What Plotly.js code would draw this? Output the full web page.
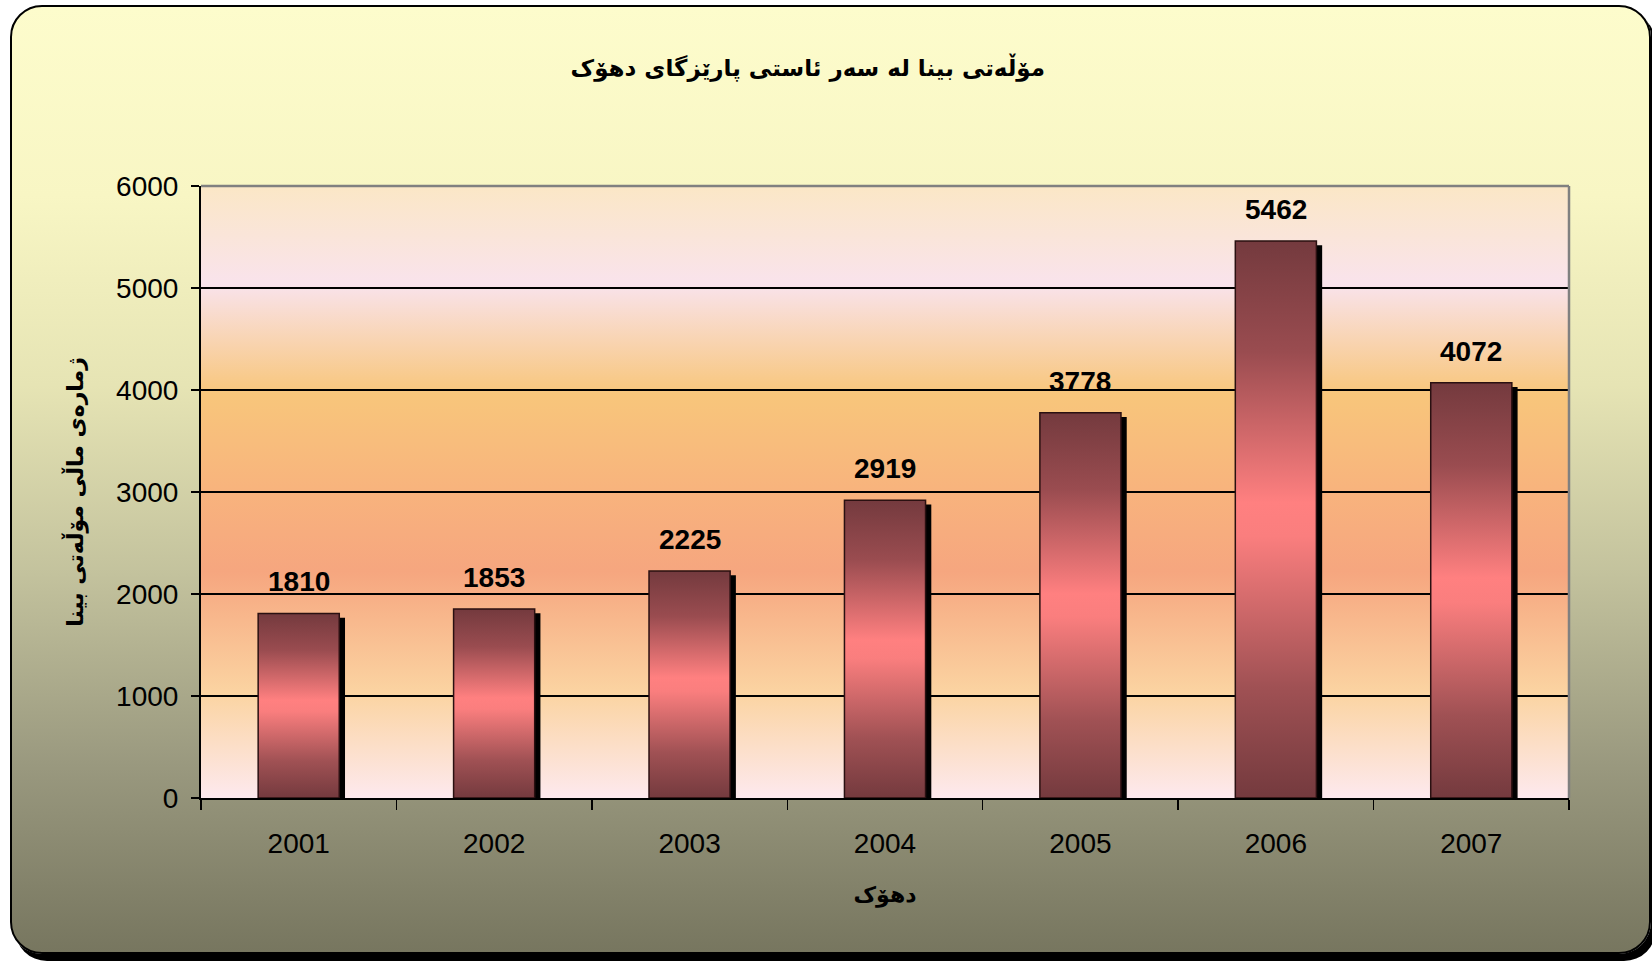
<!DOCTYPE html>
<html>
<head>
<meta charset="utf-8">
<script src="https://cdn.plot.ly/plotly-3.0.1.min.js"></script>
<style>
  html, body { margin: 0; padding: 0; width: 1652px; height: 962px; overflow: hidden; background: #ffffff; }
  #frame {
    position: absolute; left: 10px; top: 5px; width: 1637px; height: 945px;
    border: 2px solid #000; border-radius: 32px;
    background: linear-gradient(to bottom, #FDFCCC 0%, #F8F6C4 20%, #E6E4B4 40%, #C3C29D 60%, #9A997F 80%, #77765F 100%);
    box-shadow: 5px 7px 0 #000;
  }
  #chart { position: absolute; left: 0; top: 0; width: 1652px; height: 962px; }
  .bglayer .bg { fill: url(#plotGrad) !important; }
  .barlayer .point path { fill: url(#barGrad) !important; filter: drop-shadow(5px 5px 0 #000); }
</style>
</head>
<body>
<svg width="0" height="0" style="position:absolute">
  <defs>
    <linearGradient id="barGrad" x1="0" y1="0" x2="0" y2="1">
      <stop offset="0" stop-color="#743A3E"/>
      <stop offset="0.2" stop-color="#9A4C50"/>
      <stop offset="0.47" stop-color="#FF8080"/>
      <stop offset="0.53" stop-color="#FA7E7E"/>
      <stop offset="0.8" stop-color="#A05154"/>
      <stop offset="1" stop-color="#743A3E"/>
    </linearGradient>
    <linearGradient id="plotGrad" x1="0" y1="0" x2="0" y2="1">
      <stop offset="0" stop-color="#FBE7C6"/>
      <stop offset="0.16" stop-color="#F9E3EC"/>
      <stop offset="0.34" stop-color="#F8C67B"/>
      <stop offset="0.5" stop-color="#F8B37D"/>
      <stop offset="0.63" stop-color="#F6A67F"/>
      <stop offset="0.83" stop-color="#FBD4A2"/>
      <stop offset="1" stop-color="#FDE9EE"/>
    </linearGradient>
  </defs>
</svg>
<div id="frame"></div>
<div id="chart"></div>
<script>
const years = ['2001', '2002', '2003', '2004', '2005', '2006', '2007'];
const permits = [1810, 1853, 2225, 2919, 3778, 5462, 4072];
const yTickValues = [0, 1000, 2000, 3000, 4000, 5000, 6000];

const chartTitle = 'مۆڵەتی بینا لە سەر ئاستی پارێزگای دهۆک';
const yTitle = 'ژمارەی ماڵی مۆڵەتی بینا';
const xTitle = 'دهۆک';

const arabicFont = 'DejaVu Sans, Noto Sans, sans-serif';
const latinFont = 'Liberation Sans, Arial, sans-serif';

const trace = {
  type: 'bar',
  x: years,
  y: permits,
  marker: { color: '#C86266', line: { color: '#2A1011', width: 1.5 } },
  hoverinfo: 'x+y'
};

// on a category axis annotations are placed by category index
const labels = years.map((yr, i) => ({
  x: i, y: permits[i], xref: 'x', yref: 'y',
  text: '<b>' + permits[i] + '</b>',
  showarrow: false, yanchor: 'bottom', yshift: 14,
  font: { family: latinFont, size: 28, color: '#000' }
}));

const layout = {
  width: 1652, height: 962,
  margin: { l: 201, r: 83, t: 186, b: 164 },
  paper_bgcolor: 'rgba(0,0,0,0)',
  plot_bgcolor: '#FBD8B0',
  showlegend: false,
  bargap: 0.585,
  title: {
    text: '<b>' + chartTitle + '</b>',
    font: { family: arabicFont, size: 23, color: '#000' },
    x: 0.489, xanchor: 'center', y: 0.929, yanchor: 'middle'
  },
  xaxis: {
    type: 'category',
    range: [-0.5, years.length - 0.5],
    autorange: false,
    tickson: 'boundaries',
    ticks: 'outside', ticklen: 10, tickwidth: 1.5, tickcolor: '#000',
    showline: true, linecolor: '#000', linewidth: 2,
    showgrid: false,
    tickangle: 0,
    tickfont: { family: latinFont, size: 28, color: '#000' },
    ticklabelstandoff: 19,
    title: { text: '<b>' + xTitle + '</b>', font: { family: arabicFont, size: 22, color: '#000' }, standoff: 29 }
  },
  yaxis: {
    range: [0, 6000],
    autorange: false,
    tickvals: yTickValues,
    ticks: 'outside', ticklen: 8, tickwidth: 1.5, tickcolor: '#000',
    showline: true, linecolor: '#000', linewidth: 2,
    showgrid: true, gridcolor: '#000', gridwidth: 1.3,
    zeroline: false,
    tickfont: { family: latinFont, size: 28, color: '#000' },
    ticklabelstandoff: 7,
    title: { text: '<b>' + yTitle + '</b>', font: { family: arabicFont, size: 22, color: '#000' }, standoff: 26 }
  },
  annotations: labels,
  shapes: [
    { type: 'line', xref: 'paper', yref: 'paper', x0: 0, x1: 1, y0: 1, y1: 1, line: { color: '#808080', width: 2.5 }, layer: 'above' },
    { type: 'line', xref: 'paper', yref: 'paper', x0: 1, x1: 1, y0: 0, y1: 1, line: { color: '#808080', width: 2.5 }, layer: 'above' }
  ]
};

Plotly.newPlot('chart', [trace], layout, { displayModeBar: false, staticPlot: true });
</script>
</body>
</html>
